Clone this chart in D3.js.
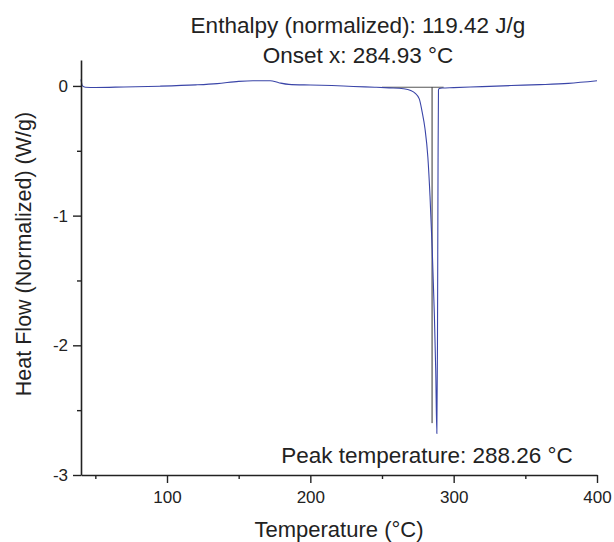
<!DOCTYPE html>
<html>
<head>
<meta charset="utf-8">
<script src="https://cdn.jsdelivr.net/npm/d3@7"></script>
<style>
  body { margin: 0; background: #fff; }
  svg { font-family: "Liberation Sans", Arial, sans-serif; }
</style>
</head>
<body>
<svg id="chart" width="614" height="542"></svg>
<script>
// DSC trace, temperature (°C) vs normalized heat flow (W/g)
const temperature = [40, 41, 43, 50, 70, 95, 120, 135, 150, 160, 172, 178, 185, 200, 215, 230, 245, 255,
    265, 270, 273, 276, 278, 280, 282, 283.5, 285, 286.5, 287.5, 288.26, 288.7, 289.1, 289.4, 290,
    292, 300, 320, 340, 360, 380, 400];
const heatFlow = [0.05, 0.0, -0.01, -0.012, -0.008, -0.002, 0.008, 0.018, 0.035, 0.04, 0.04, 0.025, 0.012, 0.007, 0.003, -0.004, -0.01, -0.015,
    -0.022, -0.035, -0.055, -0.1, -0.2, -0.33, -0.55, -0.85, -1.25, -1.75, -2.2, -2.68, -2.0, -0.6, -0.03, -0.02,
    -0.016, -0.013, -0.005, 0.003, 0.01, 0.02, 0.04];

// integration baseline and onset marker
const baselineX = [250, 293];
const baselineY = [-0.01, -0.01];
const onsetX = 284.93;
const onsetY = [-0.01, -2.6];

const xMajor = [100, 200, 300, 400];
const xMinor = [50, 150, 250, 350];
const yMajor = [0, -1, -2, -3];
const yMinor = [-0.5, -1.5, -2.5];

const annotations = [
    { text: "Enthalpy (normalized): 119.42 J/g", x: 358, y: 25 },
    { text: "Onset x: 284.93 °C", x: 358, y: 55 },
    { text: "Peak temperature: 288.26 °C", x: 427, y: 455 }
];

const dimensions = {
    width: 614,
    height: 542,
    margin: { top: 60, bottom: 67, left: 81, right: 17 }
};

const svg = d3.select("#chart");

const xScale = d3.scaleLinear()
    .domain([40, 400])
    .range([dimensions.margin.left, dimensions.width - dimensions.margin.right]);

const yScale = d3.scaleLinear()
    .domain([-3, 0.2])
    .range([dimensions.height - dimensions.margin.bottom, dimensions.margin.top]);

const data = temperature.map((t, i) => ({ t: t, v: heatFlow[i] }));

// baseline (gray)
svg.append("line")
    .attr("x1", xScale(baselineX[0]))
    .attr("x2", xScale(baselineX[1]))
    .attr("y1", yScale(baselineY[0]))
    .attr("y2", yScale(baselineY[1]))
    .attr("stroke", "#555")
    .attr("stroke-width", 1);

svg.append("line")
    .attr("x1", xScale(onsetX))
    .attr("x2", xScale(onsetX))
    .attr("y1", yScale(onsetY[0]))
    .attr("y2", yScale(onsetY[1]))
    .attr("stroke", "#333")
    .attr("stroke-width", 1);

// curve
svg.append("path")
    .datum(data)
    .attr("fill", "none")
    .attr("stroke", "#3a45a8")
    .attr("stroke-width", 1.1)
    .attr("d", d3.line()
        .x(d => xScale(d.t))
        .y(d => yScale(d.v))
        .curve(d3.curveMonotoneX));

const fmt = d => String(d);

// x axis
const xAxisY = yScale(-3);
svg.append("g")
    .attr("transform", `translate(0,${xAxisY})`)
    .call(d3.axisBottom(xScale).tickValues(xMajor).tickSize(8).tickSizeOuter(0).tickPadding(8).tickFormat(fmt));
svg.append("g")
    .attr("transform", `translate(0,${xAxisY})`)
    .call(d3.axisBottom(xScale).tickValues(xMinor).tickSize(4).tickSizeOuter(0).tickFormat(""))
    .select(".domain").remove();

// y axis
svg.append("g")
    .attr("transform", `translate(${dimensions.margin.left},0)`)
    .call(d3.axisLeft(yScale).tickValues(yMajor).tickSize(8).tickSizeOuter(0).tickPadding(5).tickFormat(fmt));
svg.append("g")
    .attr("transform", `translate(${dimensions.margin.left},0)`)
    .call(d3.axisLeft(yScale).tickValues(yMinor).tickSize(4).tickSizeOuter(0).tickFormat(""))
    .select(".domain").remove();

svg.selectAll(".domain").attr("stroke", "#222").attr("stroke-width", 1.6);
svg.selectAll(".tick line").attr("stroke", "#222").attr("stroke-width", 1.4);
svg.selectAll(".tick text").attr("fill", "#222").style("font-size", "17px");

// axis titles
svg.append("text")
    .attr("x", (xScale(40) + xScale(400)) / 2)
    .attr("y", 537)
    .attr("text-anchor", "middle")
    .attr("fill", "#222")
    .style("font-size", "22px")
    .text("Temperature (°C)");

svg.append("text")
    .attr("transform", "translate(31,254) rotate(-90)")
    .attr("text-anchor", "middle")
    .attr("fill", "#222")
    .style("font-size", "21.5px")
    .text("Heat Flow (Normalized) (W/g)");

// annotations
svg.selectAll(".note")
    .data(annotations)
    .enter()
    .append("text")
    .attr("class", "note")
    .attr("x", d => d.x)
    .attr("y", d => d.y)
    .attr("dy", "0.35em")
    .attr("text-anchor", "middle")
    .attr("fill", "#222")
    .style("font-size", "22.5px")
    .text(d => d.text);
</script>
</body>
</html>
